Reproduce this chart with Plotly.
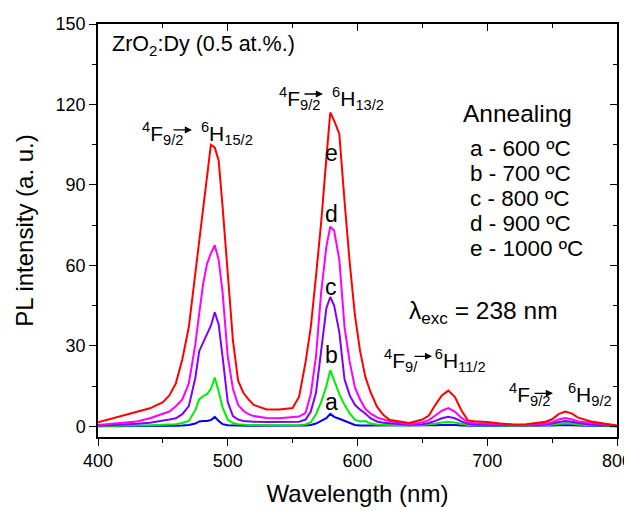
import plotly.graph_objects as go

wavelength = [400, 410, 420, 430, 440, 450, 455, 460, 465, 470, 475, 478, 481, 484, 487, 490,
              493, 496, 500, 504, 508, 512, 516, 520, 530, 540, 550, 555, 560, 564, 568, 572,
              576, 579, 582, 586, 590, 594, 598, 602, 606, 610, 615, 620, 625, 630, 640, 650,
              655, 660, 665, 670, 675, 680, 685, 690, 700, 710, 720, 730, 740, 745, 750, 755,
              760, 765, 770, 780, 790, 800]

series_e = [1.5, 2.8, 4.0, 5.3, 6.7, 9.0, 11.5, 16, 25, 37, 57, 69, 81, 93, 105, 104,
            99, 82, 56, 32, 17, 12.5, 10, 8, 6.3, 6.3, 6.8, 11, 24, 37, 56, 76,
            100, 117, 114, 109, 84, 61, 41.5, 28, 18.5, 12.8, 7.3, 4.2, 2.3, 2.0, 1.2, 2.5,
            4.0, 8, 11.5, 13.3, 11, 6, 2.2, 1.9, 1.6, 1.0, 0.7, 0.8, 1.3, 1.7, 2.6, 4.5,
            5.5, 4.8, 3.2, 1.8, 1.0, 0.3]

series_d = [0.5, 0.9, 1.3, 1.8, 3.0, 4.5, 5.5, 7.5, 10, 16, 30.5, 42, 53, 60.5, 64.5, 67.5,
            62, 50, 26, 14, 8, 5.8, 4.5, 3.8, 3.1, 3.0, 3.3, 3.6, 5.0, 12, 26, 50,
            67, 74.4, 73, 62, 37, 24, 14.5, 10, 6.5, 4.8, 3.3, 2.5, 2.0, 1.6, 0.8, 1.4,
            2.3, 4.0, 5.8, 6.8, 5.5, 3.2, 1.5, 1.2, 1.0, 0.6, 0.5, 0.5, 0.8, 1.0, 1.5, 2.5,
            3.1, 2.6, 1.8, 1.2, 0.6, 0.2]

series_c = [0.2, 0.4, 0.6, 0.9, 1.3, 2.0, 2.5, 3.0, 4.5, 7.5, 18, 28, 31, 34, 37.5, 42.5,
            38, 26, 9, 3.8, 2.5, 2.0, 1.8, 1.7, 1.6, 1.6, 1.6, 1.7, 2.5, 5.5, 12.5, 28,
            44, 48.2, 45, 35, 17.5, 11.5, 8, 6.2, 4.8, 3.0, 1.8, 1.3, 1.1, 0.9, 0.6, 0.8,
            1.2, 2.0, 3.0, 3.5, 3.0, 1.8, 0.9, 0.7, 0.6, 0.4, 0.3, 0.3, 0.5, 0.7, 1.0, 1.6,
            2.0, 1.7, 1.2, 0.7, 0.4, 0.1]

series_b = [0.1, 0.1, 0.2, 0.3, 0.4, 0.5, 0.6, 0.8, 1.2, 2.0, 6, 10, 11.3, 12, 14, 18.2,
            13, 7, 2.5, 1.2, 0.8, 0.6, 0.5, 0.5, 0.4, 0.4, 0.4, 0.5, 0.7, 1.5, 4.5, 9,
            15, 20.9, 17, 12, 8, 4.8, 2.5, 1.8, 2.0, 1.0, 0.7, 0.5, 0.5, 0.4, 0.3, 0.5,
            0.7, 1.0, 1.4, 1.6, 1.4, 0.9, 0.5, 0.4, 0.3, 0.3, 0.2, 0.2, 0.3, 0.4, 0.6, 0.9,
            1.2, 1.0, 0.7, 0.4, 0.2, 0.1]

series_a = [0.0, 0.0, 0.1, 0.1, 0.1, 0.2, 0.2, 0.2, 0.3, 0.5, 1.0, 1.8, 2.0, 2.0, 2.3, 3.5,
            2.0, 0.8, 0.4, 0.3, 0.2, 0.2, 0.2, 0.2, 0.2, 0.2, 0.2, 0.2, 0.3, 0.5, 1.0, 2.0,
            3.0, 4.6, 3.5, 2.8, 2.0, 1.0, 0.5, 0.3, 0.3, 0.2, 0.2, 0.2, 0.2, 0.2, 0.2, 0.2,
            0.3, 0.4, 0.5, 0.6, 0.5, 0.3, 0.2, 0.2, 0.2, 0.2, 0.1, 0.1, 0.2, 0.2, 0.3, 0.4,
            0.5, 0.4, 0.3, 0.2, 0.1, 0.0]

series_names = ["a", "b", "c", "d", "e"]
series_values = [series_a, series_b, series_c, series_d, series_e]
series_colors = ["#0000FF", "#00EE00", "#8000FF", "#FF00FF", "#FF0000"]

annealing_title = "Annealing"
annealing_labels = ["a - 600 ºC", "b - 700 ºC", "c - 800 ºC", "d - 900 ºC", "e - 1000 ºC"]
sample_label = "ZrO<sub>2</sub>:Dy (0.5 at.%.)"
excitation_label = "λ<sub>exc</sub> = 238 nm"
transition_labels = [
    "<sup>4</sup>F<sub>9/2</sub>   <sup>6</sup>H<sub>15/2</sub>",
    "<sup>4</sup>F<sub>9/2</sub>  <sup>6</sup>H<sub>13/2</sub>",
    "<sup>4</sup>F<sub>9/</sub>   <sup>6</sup>H<sub>11/2</sub>",
    "<sup>4</sup>F<sub>9/2</sub>   <sup>6</sup>H<sub>9/2</sub>",
]

x_ticks = [400, 500, 600, 700, 800]
y_ticks = [0, 30, 60, 90, 120, 150]

FONT = "Liberation Sans, Arial, sans-serif"

fig = go.Figure()
for name, vals, col in zip(series_names, series_values, series_colors):
    fig.add_trace(go.Scatter(x=wavelength, y=vals, mode="lines", name=name,
                             line=dict(color=col, width=2), hoverinfo="skip",
                             showlegend=False))
# invisible trace to activate the mirrored (top/right) axes
fig.add_trace(go.Scatter(x=wavelength, y=series_a, mode="lines", xaxis="x2", yaxis="y2",
                         line=dict(width=0), opacity=0, hoverinfo="skip", showlegend=False))

ann = []
ann.append(dict(x=409.2, y=141.8, text=sample_label, xanchor="left", yanchor="middle",
                font=dict(size=21.5)))
trans_pos = [(432.4, 109.3), (537.8, 122.4), (618.9, 24.6), (715.2, 11.75)]
for t, (xx, yy) in zip(transition_labels, trans_pos):
    ann.append(dict(x=xx, y=yy, text=t, xanchor="left", yanchor="middle",
                    font=dict(size=21)))
arrow_pos = [(457.0, 472.4, 110.5), (558.0, 573.4, 123.9), (642.8, 657.5, 26.1),
             (735.3, 750.7, 12.3)]
for x0, x1, yy in arrow_pos:
    ann.append(dict(x=x1, y=yy, ax=x0, ay=yy, axref="x", ayref="y", text="",
                    showarrow=True, arrowhead=2, arrowsize=1.1, arrowwidth=1.3,
                    arrowcolor="black"))
ann.append(dict(x=638.0, y=42.5, text=excitation_label, xanchor="left", yanchor="middle",
                font=dict(size=24.5)))
ann.append(dict(x=679.8, y=116.8, text=annealing_title, xanchor="left", yanchor="middle",
                font=dict(size=24.5)))
for i, lab in enumerate(annealing_labels):
    ann.append(dict(x=685.2, y=103.7 - i * 9.35, text=lab, xanchor="left",
                    yanchor="middle", font=dict(size=22.5)))
letter_y = [9.0, 26.5, 52.0, 79.0, 102.0]
for name, yy in zip(series_names, letter_y):
    ann.append(dict(x=579.6, y=yy, text=name, xanchor="center", yanchor="middle",
                    font=dict(size=23)))

for a in ann:
    a.setdefault("showarrow", False)

axis_common = dict(showline=True, linecolor="black", linewidth=1.5, showgrid=False,
                   zeroline=False, tickcolor="black", tickwidth=1.3, automargin=False,
                   ticklabeloverflow="allow",
                   tickfont=dict(size=18, color="black", family=FONT))

mirror_common = dict(showticklabels=False, showline=True, linecolor="black", linewidth=1.5,
                     showgrid=False, zeroline=False, tickcolor="black", tickwidth=1.3,
                     automargin=False)

X_RANGE = [400, 800.001]
Y_RANGE = [-4, 150.001]

# page body has an 8px default margin: figure is sized/margined to compensate
fig.update_layout(
    width=624, height=503,
    margin=dict(l=90, r=15, t=16, b=74),
    paper_bgcolor="white", plot_bgcolor="white",
    font=dict(family=FONT, color="black"),
    annotations=ann,
    xaxis=dict(range=X_RANGE, tickvals=x_ticks, ticks="outside", ticklen=7,
               minor=dict(dtick=50, ticks="outside", ticklen=4, tickcolor="black", tickwidth=1.3),
               title=dict(text="Wavelength (nm)", font=dict(size=24)),
               **axis_common),
    yaxis=dict(range=Y_RANGE, tickvals=y_ticks, ticks="outside", ticklen=7,
               minor=dict(tickvals=[15, 45, 75, 105, 135], ticks="outside", ticklen=4,
                          tickcolor="black", tickwidth=1.3),
               title=dict(text="PL intensity (a. u.)", font=dict(size=24)),
               **axis_common),
    xaxis2=dict(range=X_RANGE, overlaying="x", side="top", tickvals=x_ticks,
                ticks="inside", ticklen=7,
                minor=dict(dtick=50, ticks="inside", ticklen=4, tickcolor="black", tickwidth=1.3),
                **mirror_common),
    yaxis2=dict(range=Y_RANGE, overlaying="y", side="right", tickvals=y_ticks,
                ticks="inside", ticklen=7,
                minor=dict(tickvals=[15, 45, 75, 105, 135], ticks="inside", ticklen=4,
                           tickcolor="black", tickwidth=1.3),
                **mirror_common),
)

fig.write_html("out.html")
